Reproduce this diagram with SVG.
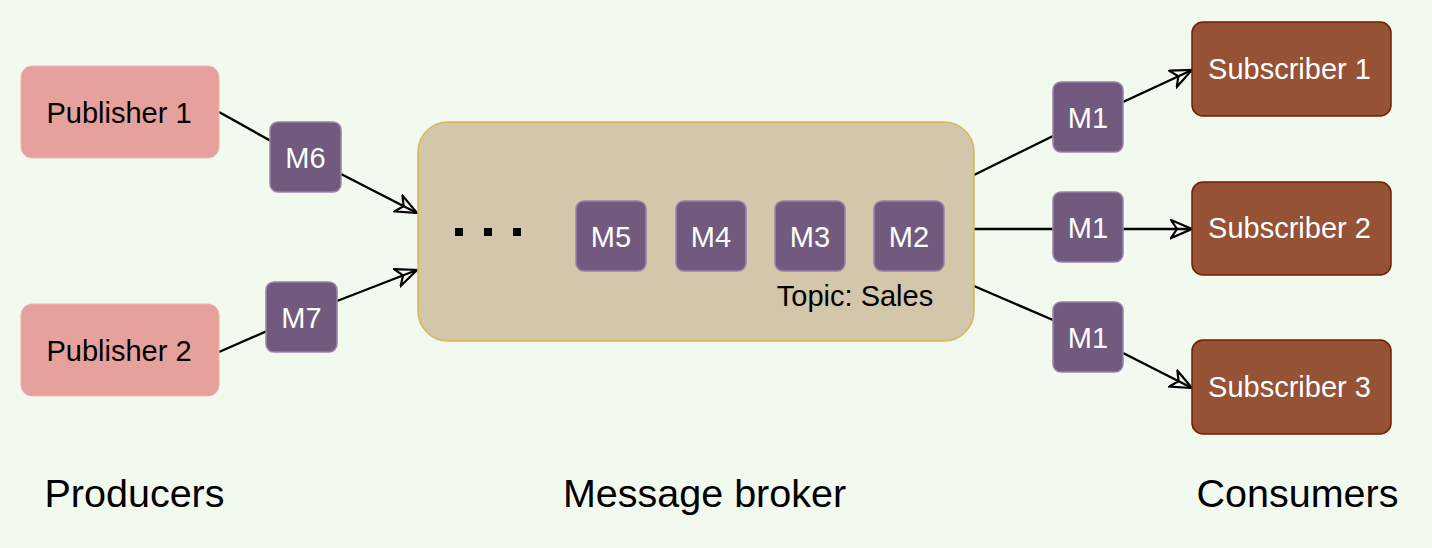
<svg xmlns="http://www.w3.org/2000/svg" width="1432" height="548" viewBox="0 0 1432 548">
<defs>
<style>
.pub{fill:#E6A19C;stroke:#EBB5B0;stroke-width:1}
.msg{fill:#715A7E;stroke:#9B82AC;stroke-width:1.5}
.sub{fill:#955235;stroke:#6D1F00;stroke-width:1.5}
.broker{fill:#D2C6AB;stroke:#D6B656;stroke-width:1.5}
.t{font-family:"Liberation Sans",Arial,sans-serif;font-size:29px;text-anchor:middle}
.w{fill:#FFFFFF}
.k{fill:#000000}
.lbl{font-family:"Liberation Sans",Arial,sans-serif;font-size:39.5px;fill:#000;text-anchor:middle}
.c{stroke:#000;stroke-width:2.4;fill:none}
.ca{stroke:#000;stroke-width:2.4;fill:none;marker-end:url(#arr)}
</style>
<marker id="arr" markerUnits="userSpaceOnUse" markerWidth="28" markerHeight="22" refX="22" refY="10" orient="auto" viewBox="0 0 28 22">
<path d="M1,1 L22,10 L1,19 L7,10 Z" fill="none" stroke="#000" stroke-width="2.2"/>
</marker>
</defs>
<rect x="0" y="0" width="1432" height="548" fill="#F2F9EF"/>
<g id="connectors">
<line class="c" x1="219" y1="112" x2="271" y2="141"/>
<line class="ca" x1="341" y1="174" x2="417" y2="213"/>
<line class="c" x1="219" y1="352" x2="267" y2="331"/>
<line class="ca" x1="337" y1="301" x2="417" y2="270"/>
<line class="c" x1="974" y1="175" x2="1053" y2="136"/>
<line class="ca" x1="1123" y1="102" x2="1192" y2="70"/>
<line class="c" x1="974" y1="229" x2="1053" y2="229"/>
<line class="ca" x1="1123" y1="229" x2="1192" y2="229"/>
<line class="c" x1="974" y1="286" x2="1053" y2="320"/>
<line class="ca" x1="1123" y1="353" x2="1192" y2="388"/>
</g>
<g id="publisher1"><rect class="pub" x="21" y="66" width="198" height="92" rx="11"/><text class="t k" x="119" y="123">Publisher 1</text></g>
<g id="publisher2"><rect class="pub" x="21" y="304" width="198" height="92" rx="11"/><text class="t k" x="119" y="361">Publisher 2</text></g>
<g id="m6"><rect class="msg" x="270" y="122" width="71" height="70" rx="8"/><text class="t w" x="305.5" y="168">M6</text></g>
<g id="m7"><rect class="msg" x="266" y="282" width="71" height="70" rx="8"/><text class="t w" x="301.5" y="328">M7</text></g>
<g id="broker">
<rect class="broker" x="418" y="122" width="556" height="219" rx="30"/>
<rect x="455" y="228" width="8" height="8" fill="#000"/>
<rect x="484" y="228" width="8" height="8" fill="#000"/>
<rect x="513" y="228" width="8" height="8" fill="#000"/>
<text class="t k" x="855" y="306">Topic: Sales</text>
</g>
<g id="m5"><rect class="msg" x="576" y="201" width="70" height="70" rx="8"/><text class="t w" x="611" y="247">M5</text></g>
<g id="m4"><rect class="msg" x="676" y="201" width="70" height="70" rx="8"/><text class="t w" x="711" y="247">M4</text></g>
<g id="m3"><rect class="msg" x="775" y="201" width="70" height="70" rx="8"/><text class="t w" x="810" y="247">M3</text></g>
<g id="m2"><rect class="msg" x="874" y="201" width="70" height="70" rx="8"/><text class="t w" x="909" y="247">M2</text></g>
<g id="m1a"><rect class="msg" x="1053" y="82" width="70" height="70" rx="8"/><text class="t w" x="1088" y="128">M1</text></g>
<g id="m1b"><rect class="msg" x="1053" y="192" width="70" height="70" rx="8"/><text class="t w" x="1088" y="238">M1</text></g>
<g id="m1c"><rect class="msg" x="1053" y="302" width="70" height="70" rx="8"/><text class="t w" x="1088" y="348">M1</text></g>
<g id="subscriber1"><rect class="sub" x="1192" y="22" width="199" height="94" rx="11"/><text class="t w" x="1289.5" y="79">Subscriber 1</text></g>
<g id="subscriber2"><rect class="sub" x="1192" y="182" width="199" height="93" rx="11"/><text class="t w" x="1289.5" y="238">Subscriber 2</text></g>
<g id="subscriber3"><rect class="sub" x="1192" y="340" width="199" height="94" rx="11"/><text class="t w" x="1289.5" y="397">Subscriber 3</text></g>
<g id="labels">
<text class="lbl" x="134.5" y="507">Producers</text>
<text class="lbl" x="704.5" y="507">Message broker</text>
<text class="lbl" x="1297.5" y="507">Consumers</text>
</g>
</svg>
